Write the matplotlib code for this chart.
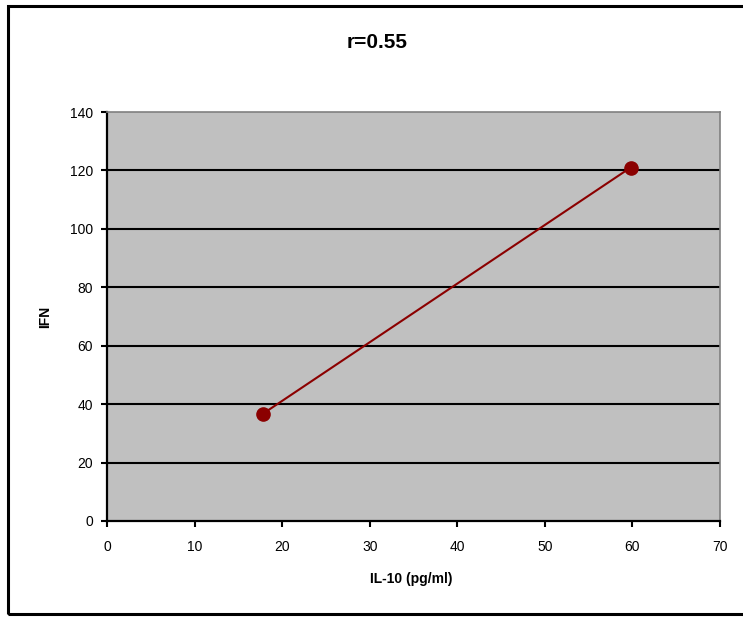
import matplotlib.pyplot as plt
from matplotlib.patches import Rectangle

# values
il10 = [17.8, 59.8]
ifn = [36.7, 121.0]
title = "r=0.55"
xTicks = [0, 10, 20, 30, 40, 50, 60, 70]
yTicks = [0, 20, 40, 60, 80, 100, 120, 140]

plt.rcParams['font.family'] = ['Liberation Sans', 'DejaVu Sans']

fig = plt.figure(figsize=(7.43, 6.17), dpi=100)
W, H = 743.0, 617.0

# outer chart border (runs off the right edge)
fig.patches.append(Rectangle((8 / W, 1 - 614 / H), 1.0, (614 - 6) / H,
                             transform=fig.transFigure, fill=False,
                             edgecolor='black', linewidth=2.2, zorder=0))

ax = fig.add_axes([107 / W, 1 - 521 / H, (720 - 107) / W, (521 - 112) / H])
ax.set_facecolor('#c0c0c0')
ax.set_xlim(0, 70)
ax.set_ylim(0, 140)
ax.set_xticks(xTicks)
ax.set_yticks(yTicks)

for y in yTicks[1:-1]:
    ax.axhline(y, color='black', linewidth=1.5, zorder=1)

ax.plot(il10, ifn, color='#8b0000', linewidth=1.5, marker='o',
        markersize=9.5, zorder=3, clip_on=False)

for side in ['left', 'bottom']:
    ax.spines[side].set_color('black')
    ax.spines[side].set_linewidth(1.6)
for side in ['top', 'right']:
    ax.spines[side].set_color('#808080')
    ax.spines[side].set_linewidth(1.2)

ax.tick_params(direction='out', length=4, width=1.5, labelsize=10,
               colors='black', pad=6)
ax.tick_params(axis='x', pad=10)

fig.text(377 / W, 1 - 43 / H, title, ha='center', va='center',
         fontsize=15, fontweight='bold')
fig.text(411 / W, 1 - 579 / H, "IL-10 (pg/ml)", ha='center', va='center',
         fontsize=10, fontweight='bold')
fig.text(45 / W, 1 - 317 / H, "IFN", ha='center', va='center',
         fontsize=10, fontweight='bold', rotation=90)

fig.savefig('out.png', dpi=100)
